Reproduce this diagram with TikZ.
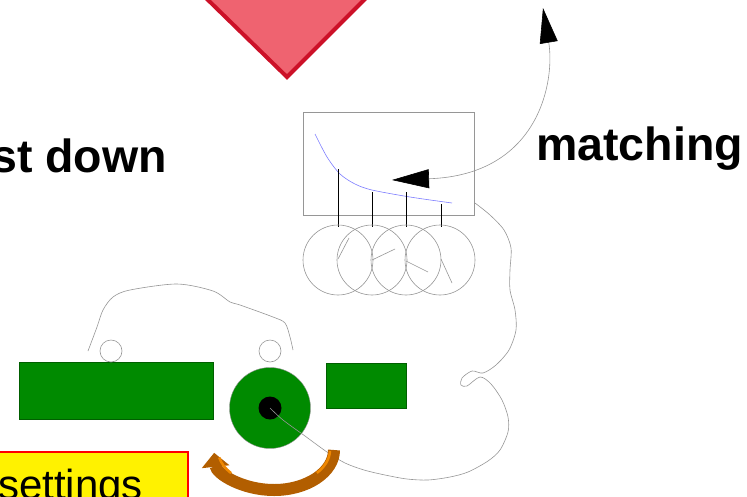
\documentclass[tikz,border=0pt]{standalone}
\usepackage{fontspec}
\newfontfamily\arial{Liberation Sans}
\usetikzlibrary{arrows.meta}

\definecolor{redfill}{RGB}{239,99,112}
\definecolor{redline}{RGB}{204,17,40}
\definecolor{leaf}{RGB}{0,138,0}
\definecolor{leafdark}{RGB}{0,95,0}
\definecolor{rust}{RGB}{178,94,0}
\definecolor{amber}{RGB}{240,136,0}
\definecolor{wiregray}{RGB}{150,150,150}
\definecolor{trace}{RGB}{125,125,255}

\tikzset{
  wire/.style={draw=wiregray, line width=0.6pt},
  greenbox/.style={fill=leaf, draw=leafdark, line width=0.6pt, inner sep=0pt},
  bigtext/.style={font=\arial\bfseries\fontsize{46.5}{46.5}\selectfont, inner sep=0pt},
}

\begin{document}
\begin{tikzpicture}[x=1pt, y=-1pt]
  \useasboundingbox (0,0) rectangle (747,496);
  \clip (0,0) rectangle (747,496);

  % red marker at the top
  \draw[redline, fill=redfill, line width=4pt] (167,-40) -- (287,77) -- (404,-40) -- cycle;

  \node[bigtext, anchor=base east] (down) at (167,172) {st down};
  \node[bigtext, anchor=base west] (match) at (536,160) {matching};

  % screen with the trace and the dials
  \node[draw=wiregray, line width=0.6pt, minimum width=171pt, minimum height=103pt] (screen) at (388.5,163.5) {};
  \draw[trace, line width=0.6pt] plot[smooth] coordinates {(315,134) (327,157) (340,174) (355,184) (372,190) (410,197) (452,203)};
  \foreach \cx/\top in {338/169, 372/192, 406/192, 441/204}
    \draw[line width=0.8pt] (\cx,\top) -- (\cx,227);
  \foreach \cx in {338,372,406,440}
    \draw[wire] (\cx,260) circle[radius=35];
  \draw[wire] (338,259) -- (349,238);
  \draw[wire] (372,260) -- (395,249);
  \draw[wire] (406,261) -- (428,272);
  \draw[wire] (441,259) -- (452,283);

  % double arrow out of the screen
  \coordinate (tipA) at (392,180);
  \coordinate (tipB) at (543,8);
  \draw[wire, {Triangle[length=37pt,width=19pt,color=black]}-{Triangle[length=35pt,width=18pt,color=black]}]
    (tipA) .. controls (540,175) and (555,80) .. (tipB);

  % green parts
  \node[greenbox, minimum width=194pt, minimum height=57pt] (bar) at (116,391) {};
  \node[greenbox, minimum width=80pt, minimum height=45pt] (block) at (366,385.5) {};
  \node[circle, fill=leaf, draw=wiregray, line width=0.4pt, minimum size=81pt, inner sep=0pt] (disc) at (270,408) {};
  \node[circle, fill=black, minimum size=23pt, inner sep=0pt] (hub) at (disc.center) {};
  \node[circle, wire, minimum size=22pt, inner sep=0pt] (wheelL) at (111,351) {};
  \node[circle, wire, minimum size=22pt, inner sep=0pt] (wheelR) at (270,351) {};
  \draw[wire] plot[smooth] coordinates {(88,351) (97,327) (103,310) (113,297) (130,290) (177,284) (213,291) (230,302) (240,305) (273,317) (285,323) (290,337) (293,350)};

  % loose wire from the screen down to the hub
  \coordinate (wireA) at (475,203);
  \draw[wire] plot[smooth] coordinates {(wireA) (490,215) (504,230) (511,248) (510,270) (510,290) (515,310) (516,330) (509,350) (496,365) (483,373) (472,371) (462,378) (461,385) (467,386) (480,377) (491,384) (502,400) (508,417) (508,432) (500,450) (488,461) (468,472) (450,477) (428,480) (407,479) (385,475) (364,470) (345,463) (327,452) (305,436) (283,420) (hub.center)};

  % turning arrow
  \draw[rust, line width=12pt, -{Triangle[length=14pt,width=27pt]}]
    (334,450) arc[start angle=0, end angle=176, x radius=60, y radius=40];
  \draw[amber, line width=2.5pt] (330,451) arc[start angle=2, end angle=40, x radius=56, y radius=36];
  \draw[amber, line width=2.5pt] (274,450) ++(140:56 and 36) arc[start angle=140, end angle=168, x radius=56, y radius=36];

  % settings label
  \draw[red, fill=yellow, line width=1.5pt] (-5,452) rectangle (188,520);
  \node[anchor=base west, inner sep=0pt, font=\arial\fontsize{42}{42}\selectfont] (settings) at (-2,499) {settings};
\end{tikzpicture}
\end{document}
